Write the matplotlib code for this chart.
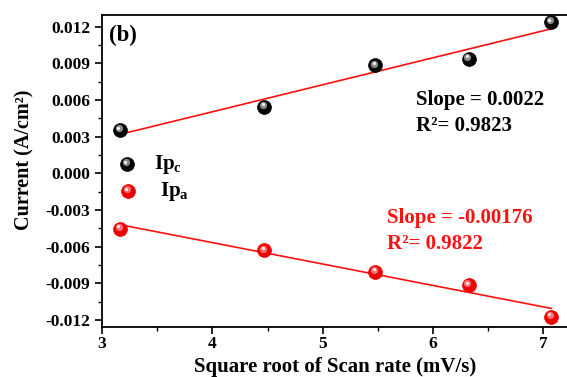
import numpy as np
import matplotlib
matplotlib.use("Agg")
import matplotlib.pyplot as plt
from matplotlib.transforms import offset_copy
from matplotlib.ticker import MultipleLocator, FormatStrFormatter

# Peak currents vs square root of scan rate
sqrt_scan_rate = [3.162, 4.472, 5.477, 6.325, 7.071]
ip_cathodic = [0.00354, 0.00545, 0.00884, 0.00938, 0.01236]
ip_anodic = [-0.00453, -0.00630, -0.00805, -0.00914, -0.01173]

series_labels = ["Ip$_\\mathrm{c}$", "Ip$_\\mathrm{a}$"]
slope_c_text = "Slope = 0.0022"
r2_c_text = "R\u00b2= 0.9823"
slope_a_text = "Slope = -0.00176"
r2_a_text = "R\u00b2= 0.9822"

plt.rcParams["font.family"] = ["Liberation Serif", "DejaVu Serif"]
plt.rcParams["font.weight"] = "bold"
plt.rcParams["mathtext.fontset"] = "custom"
plt.rcParams["mathtext.rm"] = "Liberation Serif:bold"
plt.rcParams["mathtext.bf"] = "Liberation Serif:bold"
plt.rcParams["mathtext.it"] = "Liberation Serif:bold"

fig = plt.figure(figsize=(5.67, 3.77), dpi=100)
ax = fig.add_axes([0.180, 0.1334, 0.823, 0.8266])

x = np.array(sqrt_scan_rate)

# linear fits
for y in (ip_cathodic, ip_anodic):
    k, b = np.polyfit(x, np.array(y), 1)
    ax.plot([x.min(), x.max()], [k * x.min() + b, k * x.max() + b],
            color="#ff1010", lw=1.2, zorder=2)

BLACK = ("#050505", "#8a8a8a", "#f2f2f2")
RED = ("#ee0000", "#ff7070", "#ffe8e8")


def balls(xs, ys, colors, base_tr):
    base, mid, shine = colors
    t1 = offset_copy(base_tr, fig=fig, x=-1.0, y=1.3, units="points")
    t2 = offset_copy(base_tr, fig=fig, x=-1.3, y=1.8, units="points")
    ax.plot(xs, ys, "o", ms=10, mfc=base, mec=base, mew=0.5, zorder=3,
            transform=base_tr, clip_on=False)
    ax.plot(xs, ys, "o", ms=5.2, mfc=mid, mec="none", zorder=4, transform=t1,
            clip_on=False)
    ax.plot(xs, ys, "o", ms=2.3, mfc=shine, mec="none", zorder=5, transform=t2,
            clip_on=False)


balls(x, ip_cathodic, BLACK, ax.transData)
balls(x, ip_anodic, RED, ax.transData)

# legend
balls([0.054], [0.522], BLACK, ax.transAxes)
balls([0.056], [0.435], RED, ax.transAxes)
ax.text(0.112, 0.522, series_labels[0], transform=ax.transAxes, fontsize=15,
        va="center", ha="left")
ax.text(0.124, 0.435, series_labels[1], transform=ax.transAxes, fontsize=15,
        va="center", ha="left")

ax.set_xlim(3.0, 7.23)
ax.set_ylim(-0.01255, 0.01295)
ax.xaxis.set_major_locator(MultipleLocator(1))
ax.xaxis.set_minor_locator(MultipleLocator(0.5))
ax.yaxis.set_major_locator(MultipleLocator(0.003))
ax.yaxis.set_minor_locator(MultipleLocator(0.0015))
ax.yaxis.set_major_formatter(FormatStrFormatter("%.3f"))
ax.tick_params(axis="both", which="major", direction="out", length=5, width=1.2,
               labelsize=12.5)
ax.tick_params(axis="x", which="major", pad=2)
ax.tick_params(axis="both", which="minor", direction="out", length=3, width=1.0)
for lab in ax.get_xticklabels() + ax.get_yticklabels():
    lab.set_fontweight("bold")
for s in ax.spines.values():
    s.set_linewidth(1.3)

ax.set_xlabel("Square root of Scan rate (mV/s)", fontsize=15, fontweight="bold",
              labelpad=3)
ax.set_ylabel("Current (A/cm\u00b2)", fontsize=14.5, fontweight="bold")
ax.yaxis.set_label_coords(-0.145, 0.535)

ax.text(0.015, 0.968, "(b)", transform=ax.transAxes, fontsize=16.5,
        fontweight="bold", va="top", ha="left")

ax.text(0.673, 0.7275, slope_c_text, transform=ax.transAxes, fontsize=15,
        fontweight="bold", color="black", va="center")
ax.text(0.673, 0.644, r2_c_text, transform=ax.transAxes, fontsize=15,
        fontweight="bold", color="black", va="center")
ax.text(0.611, 0.349, slope_a_text, transform=ax.transAxes, fontsize=15,
        fontweight="bold", color="#ff1010", va="center")
ax.text(0.611, 0.265, r2_a_text, transform=ax.transAxes, fontsize=15,
        fontweight="bold", color="#ff1010", va="center")

fig.savefig("out.png", dpi=100)
